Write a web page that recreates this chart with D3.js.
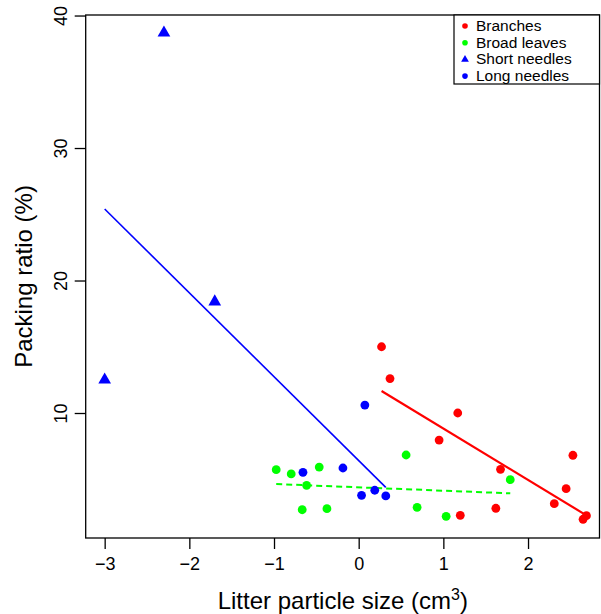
<!DOCTYPE html>
<html>
<head>
<meta charset="utf-8">
<script src="https://cdn.jsdelivr.net/npm/d3@7"></script>
<style>
  body { margin: 0; background: #fff; }
  svg { display: block; font-family: "Liberation Sans", Arial, sans-serif; }
</style>
</head>
<body>
<svg id="chart" width="601" height="614"></svg>
<script>
// Data (x = litter particle size, y = packing ratio %)
const branchesX = [0.27, 0.37, 1.17, 0.95, 1.675, 2.53, 2.45, 2.31, 1.62, 1.20, 2.69, 2.65];
const branchesY = [15.0, 12.6, 10.0, 7.96, 5.75, 6.81, 4.29, 3.16, 2.81, 2.28, 2.25, 1.98];

const broadX = [-0.974, -0.797, -0.466, -0.615, -0.667, -0.375, 0.56, 0.69, 1.033, 1.79];
const broadY = [5.72, 5.40, 5.92, 4.54, 2.70, 2.78, 6.83, 2.88, 2.20, 4.97];

const shortX = [-3.0, -2.30, -1.70];
const shortY = [12.5, 38.7, 18.4];

const longX = [0.073, -0.658, -0.186, 0.034, 0.19, 0.32];
const longY = [10.6, 5.52, 5.85, 3.79, 4.17, 3.74];

// Fitted lines: [intercept, slope, xFrom, xTo]
const branchesFit = [12.71, -3.88, 0.27, 2.67];
const needlesFit = [6.41, -6.33, -3.0, 0.32];
const broadFit = [4.39, -0.253, -0.974, 1.79];

const xTicks = [-3, -2, -1, 0, 1, 2];
const yTicks = [10, 20, 30, 40];

const legendLabels = ["Branches", "Broad leaves", "Short needles", "Long needles"];
const legendColors = ["#ff0000", "#00ff00", "#0000ff", "#0000ff"];
const legendShapes = ["circle", "circle", "triangle", "circle"];

// Plot region
const LEFT = 85.7, RIGHT = 600, TOP = 15, BOTTOM = 538;

const svg = d3.select("#chart");

const x = d3.scaleLinear().domain([-3.224, 2.85]).range([LEFT, RIGHT]);
const y = d3.scaleLinear().domain([0.566, 40.04]).range([BOTTOM, TOP]);

// Frame
svg.append("rect")
  .attr("x", LEFT).attr("y", TOP)
  .attr("width", RIGHT - LEFT - 0.5).attr("height", BOTTOM - TOP)
  .attr("fill", "none").attr("stroke", "#000").attr("stroke-width", 1.3);

// X axis
const xAxis = svg.append("g")
  .attr("transform", `translate(0,${BOTTOM})`)
  .call(d3.axisBottom(x).tickValues(xTicks).tickSize(11).tickPadding(8)
    .tickFormat(d => d < 0 ? "\u2212" + Math.abs(d) : d));
xAxis.select(".domain").remove();
xAxis.selectAll("line").attr("stroke-width", 1.3);
xAxis.selectAll("text").attr("font-size", 18).attr("fill", "#000")
  .attr("font-family", "Liberation Sans, Arial, sans-serif");

// Y axis
const yAxis = svg.append("g")
  .attr("transform", `translate(${LEFT},0)`)
  .call(d3.axisLeft(y).tickValues(yTicks).tickSize(11).tickFormat(d => d));
yAxis.select(".domain").remove();
yAxis.selectAll("line").attr("stroke-width", 1.3);
yAxis.selectAll("text")
  .attr("font-size", 18).attr("fill", "#000")
  .attr("font-family", "Liberation Sans, Arial, sans-serif")
  .attr("text-anchor", "middle")
  .attr("x", 0).attr("dy", 0)
  .attr("transform", "translate(-19,0) rotate(-90)");

// Axis titles
const xTitle = svg.append("text")
  .attr("x", (LEFT + RIGHT) / 2).attr("y", 609)
  .attr("text-anchor", "middle").attr("font-size", 24);
xTitle.append("tspan").text("Litter particle size (cm");
xTitle.append("tspan").text("3").attr("font-size", 16).attr("dy", -9);
xTitle.append("tspan").text(")").attr("dy", 9);

svg.append("text")
  .attr("transform", `translate(32,${(TOP + BOTTOM) / 2}) rotate(-90)`)
  .attr("text-anchor", "middle").attr("font-size", 24)
  .text("Packing ratio (%)");

// Fitted lines
const plot = svg.append("g");
function drawFit(fit, color, width, dash) {
  const pts = [fit[2], fit[3]].map(v => [x(v), y(fit[0] + fit[1] * v)]);
  plot.append("path")
    .attr("d", d3.line()(pts))
    .attr("stroke", color).attr("stroke-width", width)
    .attr("fill", "none")
    .attr("stroke-dasharray", dash || null);
}
drawFit(needlesFit, "#0000ff", 1.6);
drawFit(branchesFit, "#ff0000", 2.2);
drawFit(broadFit, "#00ff00", 2, "6,4");

// Points
const tri = d3.symbol().type(d3.symbolTriangle);
function drawCircles(xs, ys, color) {
  plot.selectAll(null).data(d3.zip(xs, ys)).enter().append("circle")
    .attr("cx", d => x(d[0])).attr("cy", d => y(d[1]))
    .attr("r", 4.4).attr("fill", color);
}
drawCircles(branchesX, branchesY, "#ff0000");
drawCircles(broadX, broadY, "#00ff00");
drawCircles(longX, longY, "#0000ff");
plot.selectAll(null).data(d3.zip(shortX, shortY)).enter().append("path")
  .attr("d", tri.size(70))
  .attr("transform", d => `translate(${x(d[0])},${y(d[1])})`)
  .attr("fill", "#0000ff");

// Legend
const LEG_X = 454, LEG_W = 145.5, LEG_H = 69;
const legend = svg.append("g");
legend.append("rect")
  .attr("x", LEG_X).attr("y", TOP)
  .attr("width", LEG_W).attr("height", LEG_H)
  .attr("fill", "#fff").attr("stroke", "#000").attr("stroke-width", 1.2);
legendLabels.forEach((label, i) => {
  const cy = 26 + i * 16.7;
  if (legendShapes[i] === "triangle") {
    legend.append("path").attr("d", d3.symbol().type(d3.symbolTriangle).size(26)())
      .attr("transform", `translate(465,${cy})`).attr("fill", legendColors[i]);
  } else {
    legend.append("circle").attr("cx", 465).attr("cy", cy).attr("r", 2.8)
      .attr("fill", legendColors[i]);
  }
  legend.append("text").attr("x", 476).attr("y", cy + 5)
    .attr("font-size", 15.5).text(label);
});
</script>
</body>
</html>
